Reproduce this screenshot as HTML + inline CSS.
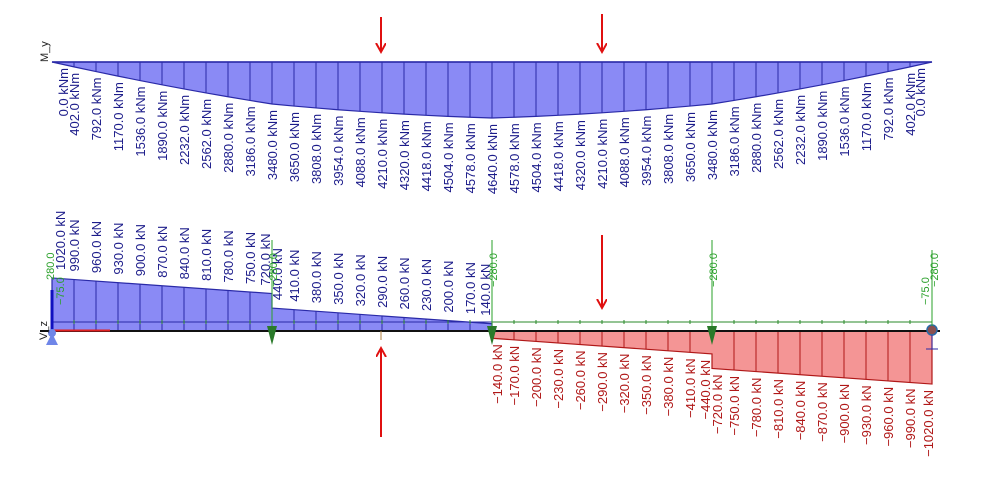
<!DOCTYPE html>
<html><head><meta charset="utf-8"><style>
html,body{margin:0;padding:0;background:#fff;width:990px;height:489px;overflow:hidden}
svg text{font-family:"Liberation Sans",sans-serif}
</style></head><body>
<svg id="s" width="990" height="489" viewBox="0 0 990 489" xmlns="http://www.w3.org/2000/svg">
<defs>
<marker id="ah" markerWidth="12" markerHeight="12" refX="9" refY="5" orient="auto" markerUnits="userSpaceOnUse"><path d="M0,0 L9,5 L0,10" fill="none" stroke="#e01010" stroke-width="2"/></marker>
</defs>
<g id="g"></g>
</svg>
<script>
var g=document.getElementById('g'),h='';
var x0=52,dx=22,N=40;
function X(i){return x0+dx*i}
var M=[0,402,792,1170,1536,1890,2232,2562,2880,3186,3480,3650,3808,3954,4088,4210,4320,4418,4504,4578,4640];
for(var i=19;i>=0;i--)M.push(M[i]);
var base=62,sc=56/4640,pts='';
for(var i=0;i<=N;i++)pts+=X(i)+','+(base+M[i]*sc)+' ';
h+='<polygon points="'+x0+','+base+' '+pts+X(N)+','+base+'" fill="#8a8af5" stroke="#2a2aa8" stroke-width="1.2"/>';
for(var i=1;i<N;i++)h+='<line x1="'+X(i)+'" y1="'+base+'" x2="'+X(i)+'" y2="'+(base+M[i]*sc)+'" stroke="#2a2aa8" stroke-width="1"/>';
h+='<line x1="'+x0+'" y1="'+base+'" x2="'+X(N)+'" y2="'+base+'" stroke="#2a2aa8" stroke-width="1.5"/>';
for(var i=0;i<=N;i++){var x=X(i)+5;if(i==0)x=X(0)+16;if(i==N)x=X(N)-7;var y=base+M[i]*sc+6;
h+='<text transform="translate('+x+','+y+') rotate(-90)" text-anchor="end" font-size="13" fill="#1c1c8a">'+M[i].toFixed(1)+' kNm</text>';}
h+='<text transform="translate(48,62) rotate(-90)" font-size="11" fill="#222">M_y</text>';
h+='<line x1="381" y1="17" x2="381" y2="52" stroke="#e01010" stroke-width="2" marker-end="url(#ah)"/>';
h+='<line x1="602" y1="14" x2="602" y2="52" stroke="#e01010" stroke-width="2" marker-end="url(#ah)"/>';
var b=331,s=0.052;
function V(i,side){
 if(i<10||(i==10&&side==0))return 1020-30*i;
 if(i<20||(i==20&&side==0))return 440-30*(i-10);
 if(i<30||(i==30&&side==0))return -140-30*(i-20);
 return -720-30*(i-30);}
h+='<line x1="52" y1="322" x2="932" y2="322" stroke="#2a8a2a" stroke-width="1"/>';
h+='<polygon points="52,'+b+' 52,'+(b-1020*s)+' 272,'+(b-720*s)+' 272,'+(b-440*s)+' 492,'+(b-140*s)+' 492,'+b+'" fill="#8a8af5" stroke="#2a2aa8" stroke-width="1.2"/>';
h+='<polygon points="492,'+b+' 492,'+(b+140*s)+' 712,'+(b+440*s)+' 712,'+(b+720*s)+' 932,'+(b+1020*s)+' 932,'+b+'" fill="#f49595" stroke="#b01818" stroke-width="1.2"/>';
for(var i=1;i<N;i++){if(i==10||i==20||i==30)continue;var v=V(i,1);
h+='<line x1="'+X(i)+'" y1="'+b+'" x2="'+X(i)+'" y2="'+(b-v*s)+'" stroke="'+(v>0?'#2a2aa8':'#b01818')+'" stroke-width="1"/>';}
h+='<line x1="52" y1="322" x2="492" y2="322" stroke="#2a2aa8" stroke-width="1"/>';
for(var i=1;i<N;i++)h+='<line x1="'+X(i)+'" y1="320" x2="'+X(i)+'" y2="324" stroke="#2a8a2a"/>';
h+='<line x1="40" y1="'+b+'" x2="940" y2="'+b+'" stroke="#111" stroke-width="2"/>';
h+='<line x1="52" y1="'+(b-0.5)+'" x2="110" y2="'+(b-0.5)+'" stroke="#e02020" stroke-width="2"/>';
h+='<line x1="52" y1="290" x2="52" y2="331" stroke="#1010c0" stroke-width="3"/>';
function lab(x,v){var c=v>0?'#1c1c8a':'#b01818';var t=(v<0?'\u2212':'')+Math.abs(v).toFixed(1)+' kN';
 if(v>0){var y=b-v*s-8;return '<text transform="translate('+x+','+y+') rotate(-90)" font-size="13" fill="'+c+'">'+t+'</text>';}
 else{var y=b-v*s+6;return '<text transform="translate('+x+','+y+') rotate(-90)" text-anchor="end" font-size="13" fill="'+c+'">'+t+'</text>';}}
for(var i=0;i<=N;i++){
 if(i==0){h+=lab(X(0)+13,1020);continue;}
 if(i==N){h+=lab(X(N)+1,-1020);continue;}
 if(i%10==0){h+=lab(X(i)-2,V(i,0));h+=lab(X(i)+10,V(i,1));}
 else h+=lab(X(i)+5,V(i,1));}
h+='<path d="M46,345 L58,345 L52,333 Z" fill="#6f86e8"/><circle cx="52" cy="333" r="4" fill="#6f86e8"/>';
[272,492,712].forEach(function(x){h+='<path d="M'+(x-5)+',326 L'+(x+5)+',326 L'+x+',345 Z" fill="#2a7a2a"/><line x1="'+x+'" y1="240" x2="'+x+'" y2="326" stroke="#2aa02a"/>';
 h+='<text transform="translate('+(x+5)+',287) rotate(-90)" font-size="11" fill="#2aa02a">\u2212280.0</text>';});
h+='<circle cx="932" cy="330" r="5" fill="#8a5050" stroke="#2a6aa8" stroke-width="1.5"/><line x1="926" y1="349" x2="938" y2="349" stroke="#2a2aa8"/><line x1="932" y1="335" x2="932" y2="349" stroke="#2a2aa8"/>';
h+='<line x1="932" y1="250" x2="932" y2="326" stroke="#2aa02a"/>';
h+='<text transform="translate(938,287) rotate(-90)" font-size="11" fill="#2aa02a">\u2212280.0</text>';
h+='<text transform="translate(929,305) rotate(-90)" font-size="11" fill="#2aa02a">\u221275.0</text>';
h+='<text transform="translate(54,280) rotate(-90)" font-size="11" fill="#2aa02a">280.0</text>';
h+='<text transform="translate(64,305) rotate(-90)" font-size="11" fill="#2aa02a">\u221275.0</text>';
h+='<text transform="translate(47,340) rotate(-90)" font-size="11" fill="#222">V_z</text>';
h+='<line x1="602" y1="235" x2="602" y2="308" stroke="#e01010" stroke-width="2" marker-end="url(#ah)"/>';
h+='<line x1="381" y1="437" x2="381" y2="348" stroke="#e01010" stroke-width="2" marker-end="url(#ah)"/>';
h+='<line x1="381" y1="331" x2="381" y2="340" stroke="#b08040"/>';
g.innerHTML=h;
</script>
</body></html>
